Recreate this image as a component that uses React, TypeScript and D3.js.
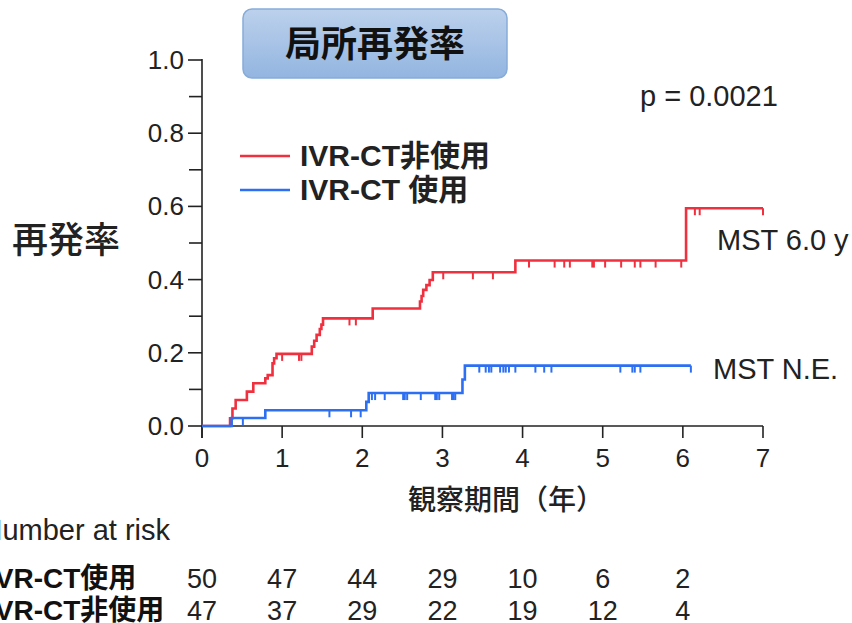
import React from "react";
import * as d3 from "d3";

// ---- data ----
const redTimes = [0.35, 0.38, 0.42, 0.56, 0.64, 0.79, 0.82, 0.88, 0.90, 0.93, 1.37, 1.40, 1.43, 1.47, 1.49, 1.51, 2.13, 2.72, 2.74, 2.76, 2.80, 2.84, 2.88, 3.91, 6.04];
const redValues = [0.021, 0.048, 0.071, 0.094, 0.117, 0.130, 0.139, 0.171, 0.185, 0.197, 0.217, 0.233, 0.249, 0.265, 0.277, 0.294, 0.321, 0.340, 0.355, 0.372, 0.385, 0.399, 0.420, 0.452, 0.595];
const redCensor = [1.0, 1.21, 1.24, 1.84, 1.92, 3.01, 3.38, 3.63, 4.08, 4.40, 4.52, 4.59, 4.87, 4.89, 5.03, 5.23, 5.40, 5.47, 5.66, 5.98, 6.15, 6.21, 7.0];
const redEnd = 7.0;

const blueTimes = [0.37, 0.79, 2.05, 2.08, 3.25, 3.28];
const blueValues = [0.022, 0.043, 0.066, 0.090, 0.127, 0.165];
const blueCensor = [0.51, 1.59, 1.86, 1.98, 2.12, 2.16, 2.28, 2.51, 2.53, 2.56, 2.73, 2.91, 2.93, 2.96, 3.12, 3.14, 3.16, 3.46, 3.54, 3.58, 3.61, 3.72, 3.76, 3.79, 3.83, 3.91, 4.16, 4.27, 4.36, 5.22, 5.37, 5.40, 5.47, 6.10];
const blueEnd = 6.10;

const xTicks = [0, 1, 2, 3, 4, 5, 6, 7];
const yTicks = [0, 0.2, 0.4, 0.6, 0.8, 1.0];
const yMinorTicks = [0.1, 0.3, 0.5, 0.7, 0.9];

const riskTimes = [0, 1, 2, 3, 4, 5, 6];
const riskUse = [50, 47, 44, 29, 10, 6, 2];
const riskNonUse = [47, 37, 29, 22, 19, 12, 4];

const RED = "#f0303f";
const BLUE = "#2d6ff2";
const FONT = "'Liberation Sans', Arial, 'Noto Sans CJK JP', sans-serif";
const CJK = "'Noto Sans CJK JP', sans-serif";

function stepPoints(times: number[], values: number[], end: number) {
  const pts: [number, number][] = [[0, 0]];
  times.forEach((t, i) => pts.push([t, values[i]]));
  pts.push([end, values[values.length - 1]]);
  return pts;
}
function valueAt(times: number[], values: number[], t: number) {
  let v = 0;
  times.forEach((tt, i) => {
    if (tt <= t) v = values[i];
  });
  return v;
}

export default function App() {
  const x = d3.scaleLinear().domain([0, 7]).range([202, 763]);
  const y = d3.scaleLinear().domain([0, 1]).range([426, 60]);
  const line = d3
    .line<[number, number]>()
    .x((d) => x(d[0]))
    .y((d) => y(d[1]))
    .curve(d3.curveStepAfter);

  const redPath = line(stepPoints(redTimes, redValues, redEnd)) || "";
  const bluePath = line(stepPoints(blueTimes, blueValues, blueEnd)) || "";

  return (
    <svg width={852} height={623} style={{ position: "absolute", left: 0, top: 0, background: "#fff" }} fontFamily={FONT}>
      <defs>
        <linearGradient id="tg" x1="0" y1="0" x2="0" y2="1">
          <stop offset="0" stopColor="#bcd1ec" />
          <stop offset="1" stopColor="#93b5e0" />
        </linearGradient>
      </defs>
      {/* title */}
      <rect x={243} y={9} width={264} height={69} rx={9} fill="url(#tg)" stroke="#86acd9" strokeWidth={1.5} />
      <text x={375} y={57} textAnchor="middle" fontSize={36} fontWeight="bold" fontFamily={CJK} fill="#111">局所再発率</text>

      {/* axes */}
      <line x1={202} y1={y(1) - 1} x2={202} y2={438} stroke="#222" strokeWidth={1.6} />
      <line x1={202} y1={426} x2={763} y2={426} stroke="#222" strokeWidth={1.6} />
      {yTicks.map((t) => (
        <g key={"y" + t}>
          <line x1={188} x2={202} y1={y(t)} y2={y(t)} stroke="#222" strokeWidth={1.6} />
          <text x={184} y={y(t) + 9} textAnchor="end" fontSize={26} fill="#222">{t.toFixed(1)}</text>
        </g>
      ))}
      {yMinorTicks.map((t) => (
        <line key={"ym" + t} x1={189} x2={202} y1={y(t)} y2={y(t)} stroke="#222" strokeWidth={1.6} />
      ))}
      {xTicks.map((t) => (
        <g key={"x" + t}>
          <line x1={x(t)} x2={x(t)} y1={426} y2={438} stroke="#222" strokeWidth={1.6} />
          <text x={x(t)} y={467} textAnchor="middle" fontSize={26} fill="#222">{t}</text>
        </g>
      ))}

      {/* curves */}
      <path d={redPath} fill="none" stroke={RED} strokeWidth={2.6} />
      {redCensor.map((t, i) => (
        <line key={"rc" + i} x1={x(t)} x2={x(t)} y1={y(valueAt(redTimes, redValues, t))} y2={y(valueAt(redTimes, redValues, t)) + 7} stroke={RED} strokeWidth={2} />
      ))}
      <path d={bluePath} fill="none" stroke={BLUE} strokeWidth={2.6} />
      {blueCensor.map((t, i) => (
        <line key={"bc" + i} x1={x(t)} x2={x(t)} y1={y(valueAt(blueTimes, blueValues, t))} y2={y(valueAt(blueTimes, blueValues, t)) + 7} stroke={BLUE} strokeWidth={2} />
      ))}

      {/* annotations */}
      <text x={640} y={106} fontSize={29} fill="#222">p = 0.0021</text>
      <text x={717} y={250} fontSize={29} fill="#222">MST 6.0 y</text>
      <text x={713} y={379} fontSize={29} fill="#222">MST N.E.</text>

      {/* legend */}
      <line x1={240} x2={290} y1={156} y2={156} stroke={RED} strokeWidth={2.6} />
      <text x={300} y={166} fontSize={30} fontWeight="bold" fill="#222">IVR-CT非使用</text>
      <line x1={240} x2={290} y1={190} y2={190} stroke={BLUE} strokeWidth={2.6} />
      <text x={300} y={200} fontSize={30} fontWeight="bold" fill="#222">IVR-CT 使用</text>

      {/* axis labels */}
      <text x={12} y={253} fontSize={36} fontWeight={500} fontFamily={CJK} fill="#222">再発率</text>
      <text x={506} y={510} textAnchor="middle" fontSize={28} fontWeight={500} fontFamily={CJK} fill="#222">観察期間（年）</text>

      {/* number at risk */}
      <text x={170} y={540} textAnchor="end" fontSize={29} fill="#222">Number at risk</text>
      <text x={-13} y={588} fontSize={28} fontWeight="bold" fill="#111">IVR-CT使用</text>
      <text x={-13} y={620} fontSize={28} fontWeight="bold" fill="#111">IVR-CT非使用</text>
      {riskTimes.map((t, i) => (
        <g key={"r" + t}>
          <text x={x(t)} y={588} textAnchor="middle" fontSize={27} fill="#222">{riskUse[i]}</text>
          <text x={x(t)} y={620} textAnchor="middle" fontSize={27} fill="#222">{riskNonUse[i]}</text>
        </g>
      ))}
    </svg>
  );
}
